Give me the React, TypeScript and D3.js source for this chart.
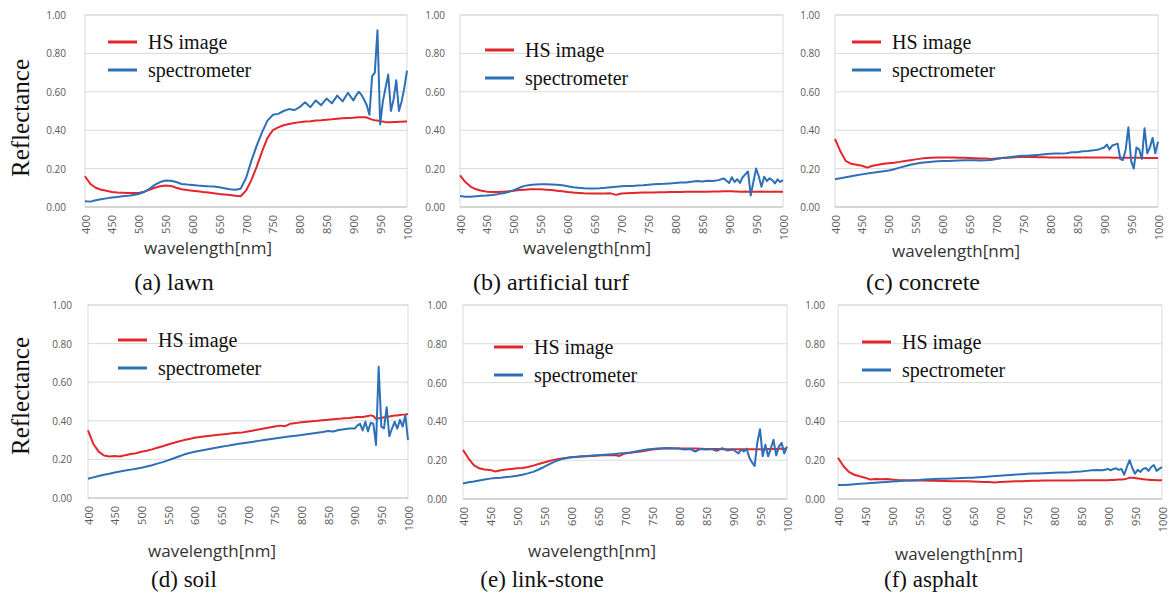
import React from "react";
import * as d3 from "d3";

// wavelength grid [nm]: 10 nm steps up to 900, 5 nm steps after
const wavelengths = [
  400, 410, 420, 430, 440, 450, 460, 470, 480, 490,
  500, 510, 520, 530, 540, 550, 560, 570, 580, 590,
  600, 610, 620, 630, 640, 650, 660, 670, 680, 690,
  700, 710, 720, 730, 740, 750, 760, 770, 780, 790,
  800, 810, 820, 830, 840, 850, 860, 870, 880, 890,
  900, 905, 910, 915, 920, 925, 930, 935, 940, 945, 950, 955, 960, 965, 970, 975, 980, 985, 990, 995, 1000,
];

const xTicks = [400, 450, 500, 550, 600, 650, 700, 750, 800, 850, 900, 950, 1000];
const yTicks = [0, 0.2, 0.4, 0.6, 0.8, 1.0];
const seriesNames = ["HS image", "spectrometer"];

const lawnHS = [
  0.16, 0.12, 0.1, 0.09, 0.085, 0.078, 0.075, 0.074, 0.073, 0.073,
  0.073, 0.08, 0.09, 0.1, 0.108, 0.112, 0.11, 0.1, 0.092, 0.088,
  0.085, 0.082, 0.078, 0.075, 0.072, 0.068, 0.065, 0.062, 0.058, 0.056,
  0.085, 0.14, 0.21, 0.29, 0.36, 0.4, 0.415, 0.426, 0.432, 0.437,
  0.442, 0.445, 0.447, 0.45, 0.452, 0.455, 0.457, 0.46, 0.462, 0.464,
  0.465, 0.466, 0.467, 0.468, 0.468, 0.466, 0.46, 0.455, 0.452, 0.45, 0.447, 0.445, 0.442, 0.442, 0.442, 0.443, 0.443, 0.444, 0.444, 0.445, 0.445,
];
const lawnSpec = [
  0.03, 0.028, 0.035, 0.04, 0.045, 0.05, 0.052, 0.056, 0.058, 0.063,
  0.068, 0.078, 0.095, 0.115, 0.13, 0.138, 0.137, 0.13, 0.12, 0.117,
  0.115, 0.112, 0.11, 0.108, 0.107, 0.103, 0.098, 0.093, 0.09, 0.095,
  0.15, 0.24, 0.32, 0.39, 0.45, 0.48, 0.485, 0.5, 0.51, 0.505,
  0.52, 0.545, 0.52, 0.555, 0.53, 0.565, 0.54, 0.58, 0.55, 0.595,
  0.555, 0.58, 0.6, 0.585, 0.56, 0.53, 0.48, 0.68, 0.7, 0.92, 0.43, 0.55, 0.62, 0.69, 0.5, 0.56, 0.66, 0.5, 0.55, 0.62, 0.71,
];

const turfHS = [
  0.165, 0.13, 0.105, 0.092, 0.085, 0.08, 0.078, 0.078, 0.08, 0.082,
  0.085, 0.088, 0.09, 0.092, 0.092, 0.092, 0.09, 0.088, 0.085, 0.082,
  0.078, 0.075, 0.073, 0.071, 0.07, 0.07, 0.07, 0.07, 0.071, 0.063,
  0.07, 0.072, 0.073, 0.074, 0.075, 0.076, 0.076, 0.077, 0.077, 0.078,
  0.078, 0.078, 0.079, 0.079, 0.08, 0.08, 0.08, 0.081, 0.081, 0.082,
  0.082, 0.082, 0.081, 0.081, 0.08, 0.08, 0.081, 0.08, 0.08, 0.08, 0.08, 0.08, 0.081, 0.08, 0.08, 0.08, 0.08, 0.08, 0.08, 0.08, 0.08,
];
const turfSpec = [
  0.057, 0.054, 0.054, 0.056, 0.058, 0.06, 0.063, 0.067, 0.072, 0.078,
  0.088, 0.1, 0.11, 0.115, 0.117, 0.118, 0.118, 0.117, 0.116, 0.113,
  0.108, 0.103, 0.1, 0.098, 0.097, 0.097, 0.098, 0.1, 0.103, 0.106,
  0.108, 0.109, 0.11, 0.112, 0.113, 0.116, 0.118, 0.12, 0.121, 0.123,
  0.125, 0.127, 0.128, 0.132, 0.135, 0.133, 0.137, 0.135, 0.14, 0.148,
  0.125, 0.155, 0.13, 0.145, 0.125, 0.155, 0.17, 0.185, 0.06, 0.13, 0.2, 0.16, 0.105, 0.158, 0.135, 0.15, 0.14, 0.123, 0.144, 0.13, 0.14,
];

const concreteHS = [
  0.355, 0.29, 0.24, 0.225, 0.22, 0.215, 0.205, 0.215, 0.22, 0.225,
  0.228, 0.23, 0.235, 0.24, 0.244, 0.248, 0.252, 0.255, 0.257, 0.258,
  0.258, 0.258, 0.258, 0.257, 0.256, 0.255, 0.254, 0.253, 0.252, 0.25,
  0.253, 0.255, 0.257, 0.258, 0.26, 0.261, 0.26, 0.26, 0.259, 0.259,
  0.258, 0.258, 0.258, 0.258, 0.258, 0.258, 0.258, 0.258, 0.258, 0.258,
  0.258, 0.258, 0.258, 0.257, 0.257, 0.257, 0.257, 0.257, 0.256, 0.256, 0.256, 0.256, 0.256, 0.256, 0.256, 0.255, 0.255, 0.255, 0.255, 0.255, 0.255,
];
const concreteSpec = [
  0.145, 0.15, 0.155, 0.16, 0.165, 0.17, 0.175, 0.178, 0.182, 0.186,
  0.19, 0.197, 0.205, 0.212, 0.22, 0.225, 0.23, 0.233, 0.236, 0.238,
  0.24, 0.24, 0.241, 0.242, 0.243, 0.243, 0.243, 0.242, 0.243, 0.245,
  0.25, 0.255, 0.258, 0.262, 0.265, 0.267, 0.268, 0.27, 0.272, 0.275,
  0.277, 0.278, 0.278, 0.28, 0.285, 0.285, 0.29, 0.292, 0.295, 0.3,
  0.31, 0.325, 0.3, 0.32, 0.325, 0.33, 0.25, 0.245, 0.3, 0.415, 0.24, 0.2, 0.31, 0.3, 0.25, 0.41, 0.28, 0.31, 0.36, 0.28, 0.34,
];

const soilHS = [
  0.35, 0.28, 0.24, 0.22, 0.215, 0.218, 0.215, 0.222, 0.228, 0.232,
  0.24, 0.245, 0.252, 0.26, 0.268, 0.277, 0.285, 0.293, 0.3, 0.306,
  0.312, 0.316, 0.32, 0.323, 0.326, 0.329, 0.332, 0.335, 0.338, 0.34,
  0.345, 0.35, 0.355, 0.36, 0.365, 0.37, 0.375, 0.372, 0.385, 0.388,
  0.392, 0.395, 0.398, 0.4, 0.403, 0.405, 0.408, 0.41, 0.413, 0.415,
  0.418, 0.42, 0.42, 0.42, 0.422, 0.425, 0.428, 0.425, 0.41, 0.413, 0.415, 0.418, 0.42, 0.422, 0.425, 0.427, 0.428, 0.43, 0.432, 0.433, 0.435,
];
const soilSpec = [
  0.1, 0.107, 0.114, 0.12, 0.126, 0.132, 0.137, 0.142, 0.147, 0.152,
  0.157, 0.163, 0.17, 0.178, 0.186, 0.195, 0.205, 0.215, 0.225, 0.233,
  0.24, 0.245, 0.25, 0.255, 0.26, 0.265, 0.27, 0.275, 0.28, 0.284,
  0.288, 0.292, 0.296, 0.3, 0.304, 0.308, 0.312, 0.316, 0.32, 0.323,
  0.326, 0.33, 0.334, 0.338, 0.342, 0.347, 0.345, 0.352, 0.356, 0.36,
  0.36, 0.375, 0.385, 0.35, 0.395, 0.345, 0.39, 0.385, 0.275, 0.68, 0.37, 0.36, 0.47, 0.32, 0.36, 0.395, 0.36, 0.405, 0.37, 0.43, 0.3,
];

const linkStoneHS = [
  0.253, 0.21, 0.175, 0.158, 0.152, 0.15, 0.142, 0.148, 0.152, 0.155,
  0.158, 0.16, 0.165, 0.172, 0.18, 0.188, 0.196, 0.203, 0.208, 0.212,
  0.215, 0.217, 0.219, 0.22, 0.222, 0.224, 0.225, 0.226, 0.227, 0.222,
  0.235, 0.238, 0.242, 0.245, 0.25, 0.255, 0.258, 0.26, 0.26, 0.26,
  0.26, 0.26, 0.26, 0.26, 0.259, 0.258, 0.258, 0.258, 0.257, 0.257,
  0.257, 0.256, 0.256, 0.256, 0.256, 0.256, 0.256, 0.256, 0.256, 0.256, 0.257, 0.257, 0.257, 0.258, 0.258, 0.258, 0.258, 0.259, 0.259, 0.259, 0.26,
];
const linkStoneSpec = [
  0.08, 0.086, 0.09, 0.095, 0.1, 0.105, 0.108, 0.11, 0.113, 0.116,
  0.12, 0.125, 0.132, 0.14, 0.152, 0.165, 0.18, 0.193, 0.203, 0.21,
  0.215, 0.218, 0.22, 0.222, 0.224, 0.226, 0.228, 0.23, 0.232, 0.235,
  0.237, 0.24, 0.245, 0.25, 0.255, 0.258, 0.26, 0.262, 0.263, 0.262,
  0.26, 0.255, 0.258, 0.245, 0.258, 0.255, 0.257, 0.248, 0.262, 0.25,
  0.255, 0.245, 0.235, 0.255, 0.245, 0.26, 0.215, 0.19, 0.17, 0.29, 0.36, 0.22, 0.28, 0.22, 0.26, 0.305, 0.225, 0.27, 0.29, 0.235, 0.27,
];

const asphaltHS = [
  0.213, 0.17, 0.14, 0.125, 0.117, 0.11, 0.1, 0.103, 0.102, 0.103,
  0.1, 0.098, 0.097, 0.096, 0.095, 0.095, 0.095, 0.094, 0.094, 0.093,
  0.093, 0.092, 0.092, 0.091, 0.091, 0.09, 0.089, 0.088, 0.087, 0.085,
  0.088, 0.089, 0.09, 0.091, 0.092, 0.093, 0.094, 0.094, 0.095, 0.095,
  0.095, 0.096, 0.096, 0.096, 0.096, 0.097, 0.097, 0.097, 0.097, 0.097,
  0.097, 0.098, 0.098, 0.099, 0.1, 0.1, 0.102, 0.105, 0.11, 0.11, 0.108, 0.106, 0.104, 0.102, 0.1, 0.099, 0.098, 0.098, 0.097, 0.097, 0.097,
];
const asphaltSpec = [
  0.072, 0.072, 0.074, 0.076, 0.078, 0.08, 0.082, 0.084, 0.086, 0.088,
  0.09, 0.092, 0.094, 0.096, 0.097, 0.098, 0.1, 0.102, 0.103, 0.104,
  0.105, 0.106, 0.107, 0.108, 0.109, 0.11, 0.112, 0.114, 0.116, 0.118,
  0.12, 0.122, 0.124, 0.126, 0.128, 0.13, 0.131, 0.132, 0.133, 0.134,
  0.135, 0.136, 0.137, 0.138, 0.14, 0.142, 0.145, 0.148, 0.15, 0.148,
  0.155, 0.148, 0.155, 0.158, 0.15, 0.155, 0.125, 0.165, 0.2, 0.16, 0.13, 0.15, 0.14, 0.155, 0.16, 0.145, 0.165, 0.175, 0.145, 0.155, 0.165,
];

const RED = "#e3262b";
const BLUE = "#2e70b8";
const TICK_FONT = "'Open Sans', 'Liberation Sans', sans-serif";
const SERIF = "'Liberation Serif', 'DejaVu Serif', serif";

interface PanelProps {
  hs: number[];
  spec: number[];
  caption: string;
  box: { l: number; r: number; t: number; b: number };
  yLabelX: number;
  title: [number, number];
  cap: [number, number];
  legend: [number, number];
  capSize?: number;
}

const Panel: React.FC<PanelProps> = ({ hs, spec, caption, box, yLabelX, title, cap, legend, capSize = 24 }) => {
  const x = d3.scaleLinear().domain([400, 1000]).range([box.l, box.r]);
  const y = d3.scaleLinear().domain([0, 1]).range([box.b, box.t]);
  const line = d3
    .line<number>()
    .x((_, i) => x(wavelengths[i]))
    .y((d) => y(d));

  return (
    <g>
      <rect x={box.l} y={box.t} width={box.r - box.l} height={box.b - box.t} fill="white" stroke="#d9d9d9" />
      {yTicks.map((t) => (
        <g key={t}>
          <line x1={box.l} x2={box.r} y1={y(t)} y2={y(t)} stroke={t === 0 ? "#bfbfbf" : "#d9d9d9"} />
          <text
            x={yLabelX}
            y={y(t)}
            textAnchor="end"
            dominantBaseline="central"
            fontSize={10}
            fill="#595959"
            fontFamily={TICK_FONT}
          >
            {d3.format(".2f")(t)}
          </text>
        </g>
      ))}
      {xTicks.map((t) => (
        <text
          key={t}
          transform={`translate(${x(t)},${box.b + 8}) rotate(-90)`}
          textAnchor="end"
          dominantBaseline="central"
          fontSize={11}
          fill="#595959"
          fontFamily={TICK_FONT}
        >
          {t}
        </text>
      ))}
      <path d={line(hs) || ""} fill="none" stroke={RED} strokeWidth={2} strokeLinejoin="round" />
      <path d={line(spec) || ""} fill="none" stroke={BLUE} strokeWidth={2} strokeLinejoin="round" />
      {seriesNames.map((name, i) => (
        <g key={name} transform={`translate(${legend[0]},${legend[1] + i * 28})`}>
          <line x1={0} x2={29} y1={0} y2={0} stroke={i === 0 ? RED : BLUE} strokeWidth={3} />
          <text x={40} y={0} dominantBaseline="central" fontSize={20} fontFamily={SERIF} fill="#111">
            {name}
          </text>
        </g>
      ))}
      <text x={title[0]} y={title[1]} textAnchor="middle" fontSize={17} fill="#333" fontFamily={TICK_FONT}>
        wavelength[nm]
      </text>
      <text x={cap[0]} y={cap[1]} textAnchor="middle" fontSize={capSize} fill="#111" fontFamily={SERIF}>
        {caption}
      </text>
    </g>
  );
};

const App: React.FC = () => {
  return (
    <svg width={1169} height={594} style={{ position: "absolute", left: 0, top: 0, background: "white" }}>
      <rect width={1169} height={594} fill="white" />
      <Panel hs={lawnHS} spec={lawnSpec} caption="(a) lawn"
        box={{ l: 85, r: 407, t: 15, b: 207 }} yLabelX={66} title={[208, 254]} cap={[174, 290]} legend={[108, 42]} />
      <Panel hs={turfHS} spec={turfSpec} caption="(b) artificial turf"
        box={{ l: 460, r: 783, t: 15, b: 207 }} yLabelX={445} title={[587, 254]} cap={[551, 290]} legend={[485, 50]} />
      <Panel hs={concreteHS} spec={concreteSpec} caption="(c) concrete"
        box={{ l: 835, r: 1158, t: 15, b: 207 }} yLabelX={820} title={[956, 257]} cap={[923, 290]} legend={[852, 42]} />
      <Panel hs={soilHS} spec={soilSpec} caption="(d) soil" capSize={23}
        box={{ l: 88, r: 408, t: 305, b: 498 }} yLabelX={72} title={[212, 557]} cap={[184, 587]} legend={[118, 340]} />
      <Panel hs={linkStoneHS} spec={linkStoneSpec} caption="(e) link-stone" capSize={23}
        box={{ l: 463, r: 787, t: 305, b: 499 }} yLabelX={447} title={[592, 557]} cap={[542, 587]} legend={[494, 347]} />
      <Panel hs={asphaltHS} spec={asphaltSpec} caption="(f) asphalt" capSize={23}
        box={{ l: 838, r: 1162, t: 305, b: 499 }} yLabelX={825} title={[959, 560]} cap={[931, 587]} legend={[862, 342]} />
      <text transform="translate(20,118) rotate(-90)" textAnchor="middle" dominantBaseline="central"
        fontSize={25} fontFamily={SERIF} fill="#111">
        Reflectance
      </text>
      <text transform="translate(20,396) rotate(-90)" textAnchor="middle" dominantBaseline="central"
        fontSize={25} fontFamily={SERIF} fill="#111">
        Reflectance
      </text>
    </svg>
  );
};

export default App;
